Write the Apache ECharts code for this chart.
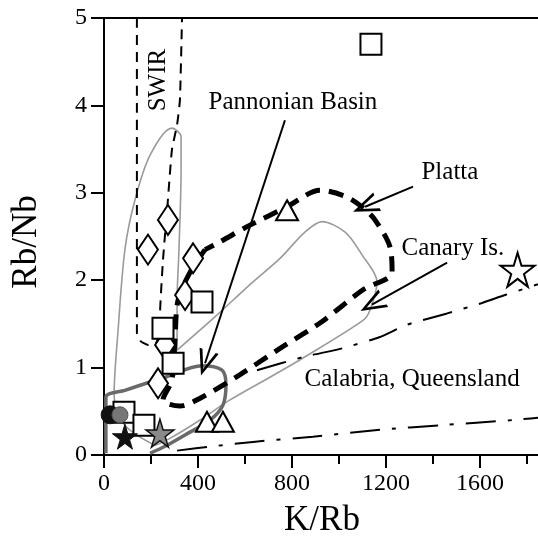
<!DOCTYPE html>
<html><head><meta charset="utf-8">
<script src="https://cdn.jsdelivr.net/npm/echarts@6/dist/echarts.min.js"></script>
<style>html,body{margin:0;padding:0;background:#fff}#c{width:538px;height:537px}</style>
</head><body><div id="c"></div>
<script>
// ---- data (K/Rb, Rb/Nb) ----
const squares = [[1136,4.70],[417,1.75],[251,1.45],[294,1.05],[85,0.49],[170,0.34]];
const diamonds = [[272,2.69],[187,2.35],[379,2.25],[345,1.83],[260,1.26],[230,0.82]];
const triangles = [[779,2.80],[438,0.38],[506,0.38]];
const whiteStars = [[1760,2.12]];
const greyStars = [[238,0.25]];
const blackStars = [[89,0.21]];
const blackCircles = [[26,0.46]];
const greyCircles = [[68,0.46]];

const swirField = [[140,5.0],[140,1.40],[157,1.30],[187,1.26],[221,1.28],[238,1.43],[238,1.58],[251,2.23],[272,2.92],[289,3.49],[311,3.78],[323,4.06],[332,5.0],[140,5.0]];
const plattaField = [[430,2.35],[366,2.09],[315,1.77],[302,1.32],[289,0.86],[251,0.63],[323,0.56],[409,0.65],[579,0.92],[749,1.22],[919,1.51],[1102,1.89],[1226,2.09],[1217,2.38],[1153,2.69],[1102,2.83],[1026,2.96],[919,3.03],[779,2.84],[621,2.63],[494,2.44],[430,2.35]];
const pannonianField = [[8,0.02],[8,0.66],[89,0.74],[260,0.89],[417,1.02],[502,0.97],[519,0.80],[506,0.57],[451,0.40],[345,0.23],[260,0.10],[196,0.02]];
const canaryField = [[217,0.11],[89,0.34],[43,0.69],[60,1.43],[89,2.35],[132,2.92],[196,3.43],[289,3.74],[328,3.64],[328,3.26],[319,2.35],[311,1.77],[311,1.20],[472,1.58],[621,1.95],[749,2.25],[855,2.55],[928,2.67],[1026,2.55],[1098,2.29],[1162,1.98],[1132,1.66],[1102,1.54],[847,1.11],[706,0.89],[536,0.63],[409,0.40],[281,0.19],[217,0.11]];
const calabriaUpper = [[651,0.97],[847,1.12],[1013,1.22],[1174,1.35],[1289,1.49],[1460,1.62],[1609,1.74],[1706,1.83],[1900,2.00]];
const calabriaLower = [[311,0.05],[464,0.10],[634,0.15],[889,0.21],[1174,0.29],[1430,0.34],[1740,0.40],[1900,0.44]];

const arrowFrom = [[770,3.83],[1315,3.07],[1460,2.20]];
const arrowTo = [[430,1.05],[1111,2.84],[1140,1.72]];

const labelNames = ['Pannonian Basin','Platta','Canary Is.','Calabria, Queensland'];
const labelPos = [[804,4.03],[1472,3.23],[1485,2.36],[1311,0.86]];
const swirLabel = [[230,4.29]];

const xTicks = [0,400,800,1200,1600];
const yTicks = [0,1,2,3,4,5];

// ---- chart ----
const FONT = '"Liberation Serif", "Times New Roman", serif';
const STAR = 'path://M50,0 L61,35 L98,35 L68,57 L79,91 L50,70 L21,91 L32,57 L2,35 L39,35 Z';
const ARROWHEAD = 'path://M10,0 L20,26 L17,26 L10,7 L3,26 L0,26 Z';

function lineSeries(data, color, width, type, smooth) {
  return {type:'line', data:data, showSymbol:false, symbol:'none', smooth:smooth, silent:true,
    lineStyle:{color:color, width:width, type:type}, z:2, animation:false};
}
function markers(data, symbol, size, fill, stroke, bw, z) {
  return {type:'scatter', data:data, symbol:symbol, symbolSize:size, silent:true, z:z||5,
    itemStyle:{color:fill, borderColor:stroke, borderWidth:bw, opacity:1}, animation:false};
}
function textSeries(data, names, rotate) {
  return {type:'scatter', data:data.map(function(p,i){ return {value:p, name:names[i]}; }),
    symbolSize:0, itemStyle:{color:'#000'}, silent:true, z:9, animation:false,
    label:{show:true, position:'inside', rotate:rotate, formatter:'{b}', fontFamily:FONT, fontSize:25,
      color:'#000', textBorderWidth:0, opacity:1}};
}

const chart = echarts.init(document.getElementById('c'), null, {renderer:'canvas'});
const axisCommon = {
  axisLine:{show:true, onZero:false, lineStyle:{color:'#000', width:2}},
  splitLine:{show:false}
};
chart.setOption({
  backgroundColor:'#fff',
  animation:false,
  grid:{left:104, top:18, width:470, height:437, containLabel:false, outerBoundsMode:'none'},
  xAxis:[
    Object.assign({type:'value', min:0, max:2000, interval:400, position:'bottom',
      axisTick:{show:true, length:13, lineStyle:{color:'#000', width:2}},
      minorTick:{show:true, splitNumber:2, length:9, lineStyle:{color:'#000', width:2}},
      minorSplitLine:{show:false},
      axisLabel:{margin:17, fontFamily:FONT, fontSize:24, color:'#000',
        formatter:function(v){ return xTicks.indexOf(v) >= 0 ? String(v) : ''; }}
    }, axisCommon),
    Object.assign({type:'value', min:0, max:2000, position:'top',
      axisTick:{show:false}, axisLabel:{show:false}}, axisCommon)
  ],
  yAxis:Object.assign({type:'value', min:0, max:5, interval:1,
    axisTick:{show:true, length:13, lineStyle:{color:'#000', width:2}},
    axisLabel:{margin:17, fontFamily:FONT, fontSize:24, color:'#000',
      formatter:function(v){ return yTicks.indexOf(v) >= 0 ? String(v) : ''; }}
  }, axisCommon),
  graphic:[
    {type:'text', x:322, y:521, style:{text:'K/Rb', font:'35px ' + FONT, fill:'#000', textAlign:'center', textVerticalAlign:'middle'}},
    {type:'text', x:27, y:242, rotation:Math.PI/2, style:{text:'Rb/Nb', font:'35px ' + FONT, fill:'#000', textAlign:'center', textVerticalAlign:'middle'}}
  ],
  series:[
    lineSeries(canaryField, '#9a9a9a', 1.6, 'solid', 0.3),
    lineSeries(pannonianField, '#6a6a6a', 3.5, 'solid', 0.3),
    lineSeries(swirField, '#000', 2, [10,7], 0.15),
    lineSeries(plattaField, '#000', 5, [15,9], 0.3),
    lineSeries(calabriaUpper, '#000', 2, [30,12,4,12], 0.2),
    lineSeries(calabriaLower, '#000', 2, [30,12,4,12], 0.2),
    {type:'line', data:[], silent:true, z:4, animation:false,
      markLine:{silent:true, animation:false, symbol:['none', ARROWHEAD], symbolSize:[20,26],
        lineStyle:{color:'#000', width:2, type:'solid'}, label:{show:false},
        data: arrowFrom.map(function(p,i){ return [{coord:p},{coord:arrowTo[i]}]; })}},
    markers(diamonds, 'diamond', [20,30], '#fff', '#000', 2, 5),
    markers(squares, 'rect', 21, '#fff', '#000', 2, 6),
    markers(triangles, 'triangle', [22,20], '#fff', '#000', 2, 5),
    markers(whiteStars, STAR, 34, '#fff', '#000', 2, 5),
    markers(blackCircles, 'circle', 18, '#111', '#111', 1, 7),
    markers(greyCircles, 'circle', 16, '#777', '#555', 1, 7),
    markers(greyStars, STAR, 28, '#8a8a8a', '#111', 1.5, 7),
    markers(blackStars, STAR, 25, '#111', '#111', 1, 8),
    textSeries(labelPos, labelNames, 0),
    textSeries(swirLabel, ['SWIR'], 90)
  ]
});
</script></body></html>
